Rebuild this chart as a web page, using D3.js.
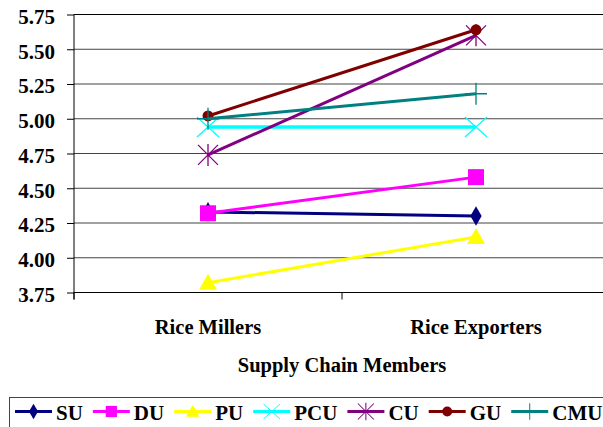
<!DOCTYPE html>
<html>
<head>
<meta charset="utf-8">
<script src="https://cdn.jsdelivr.net/npm/d3@7"></script>
<style>
  html, body { margin: 0; padding: 0; background: #fff; }
  svg { display: block; }
</style>
</head>
<body>
<svg id="chart" width="603" height="427"></svg>
<script>
// Supply chain members on the x axis
const categories = ["Rice Millers", "Rice Exporters"];

// Mean scores per member group
const seriesNames = ["SU", "DU", "PU", "PCU", "CU", "GU", "CMU"];
const suValues  = [4.33, 4.30];
const duValues  = [4.32, 4.58];
const puValues  = [3.82, 4.15];
const pcuValues = [4.94, 4.94];
const cuValues  = [4.74, 5.60];
const guValues  = [5.02, 5.64];
const cmuValues = [5.00, 5.18];

const yTicks = [3.75, 4.00, 4.25, 4.50, 4.75, 5.00, 5.25, 5.50, 5.75];
const xTitle = "Supply Chain Members";

const colors  = ["#000080", "#FF00FF", "#FFFF00", "#00FFFF", "#800080", "#800000", "#008080"];
const markers = ["diamond", "square", "triangle", "x", "star", "circle", "plus"];

const FONT = "'Liberation Serif', 'Times New Roman', Tinos, 'DejaVu Serif', serif";

const series = seriesNames.map((name, i) => ({
  name,
  values: [suValues, duValues, puValues, pcuValues, cuValues, guValues, cmuValues][i],
  color: colors[i],
  marker: markers[i]
}));

const svg = d3.select("#chart");
const plotLeft = 74, plotRight = 610, plotTop = 14.5, plotBottom = 292.5;

const y = d3.scaleLinear().domain([3.75, 5.75]).range([plotBottom, plotTop]);
const xBand = d3.scaleBand().domain(categories).range([plotLeft, plotRight]);
const xc = c => xBand(c) + xBand.bandwidth() / 2;

// Horizontal gridlines
svg.append("g").selectAll("line").data(yTicks.slice(1)).join("line")
  .attr("x1", plotLeft).attr("x2", plotRight)
  .attr("y1", d => y(d)).attr("y2", d => y(d))
  .attr("stroke", d => d === 5.75 ? "#000" : "#444").attr("stroke-width", 1);

// Y axis
const yAxis = d3.axisLeft(y).tickValues(yTicks).tickSize(7).tickPadding(12)
  .tickFormat(d3.format(".2f"));
const gy = svg.append("g").attr("transform", `translate(${plotLeft},0)`).call(yAxis);
gy.attr("font-family", null).attr("font-size", null);
gy.select(".domain").attr("stroke", "#000").attr("d", `M0,${plotTop}V${plotBottom + 7}`);
gy.selectAll(".tick line").attr("stroke", "#000");
gy.selectAll(".tick text")
  .style("font-family", FONT).style("font-weight", "bold").style("font-size", "21px")
  .attr("fill", "#000").attr("dy", "0.42em");

// X axis line with ticks at category boundaries
svg.append("line").attr("x1", plotLeft).attr("x2", plotRight).attr("y1", plotBottom).attr("y2", plotBottom)
  .attr("stroke", "#000").attr("stroke-width", 1);
const bounds = categories.map(c => xBand(c)).concat([xBand(categories[categories.length - 1]) + xBand.bandwidth()]);
svg.append("g").selectAll("line").data(bounds).join("line")
  .attr("x1", d => d).attr("x2", d => d).attr("y1", plotBottom).attr("y2", plotBottom + 7)
  .attr("stroke", "#000");

function styleText(sel, size) {
  return sel.style("font-family", FONT).style("font-weight", "bold").style("font-size", size + "px").attr("fill", "#000");
}

// Category labels
styleText(svg.append("g").selectAll("text").data(categories).join("text")
  .attr("x", d => xc(d)).attr("y", 334).attr("text-anchor", "middle").text(d => d), 20.5);

// Axis title
styleText(svg.append("text").attr("x", (plotLeft + plotRight) / 2).attr("y", 372).attr("text-anchor", "middle")
  .text(xTitle), 20.5);

// Marker drawing
function drawMarker(g, type, color, cx, cy) {
  const m = g.append("g").attr("transform", `translate(${cx},${cy})`);
  if (type === "diamond") {
    m.append("path").attr("d", d3.symbol(d3.symbolDiamond, 110)()).attr("fill", color);
  } else if (type === "square") {
    m.append("rect").attr("x", -8).attr("y", -8).attr("width", 16).attr("height", 16).attr("fill", color);
  } else if (type === "triangle") {
    m.append("path").attr("d", "M0,-9L9,7L-9,7Z").attr("fill", color);
  } else if (type === "circle") {
    m.append("circle").attr("r", 5.5).attr("fill", color);
  } else if (type === "x") {
    m.append("path").attr("d", "M-11,-10L11,10M-11,10L11,-10").attr("stroke", color).attr("stroke-width", 1.3).attr("fill", "none");
  } else if (type === "star") {
    m.append("path").attr("d", "M-10,-10L10,10M-10,10L10,-10M0,-11V11").attr("stroke", color).attr("stroke-width", 1.3).attr("fill", "none");
  } else if (type === "plus") {
    m.append("path").attr("d", "M-11,0H11M0,-11V11").attr("stroke", color).attr("stroke-width", 1.3).attr("fill", "none");
  }
}

const line = d3.line().x((d, i) => xc(categories[i])).y(d => y(d));
const plot = svg.append("g");
series.forEach(s => {
  const g = plot.append("g");
  g.append("path").attr("d", line(s.values)).attr("fill", "none")
    .attr("stroke", s.color).attr("stroke-width", s.marker === "x" ? 3.5 : 3);
  s.values.forEach((v, i) => drawMarker(g, s.marker, s.color, xc(categories[i]), y(v)));
});

// Legend
const legend = svg.append("g");
legend.append("rect").attr("x", 9.5).attr("y", 397.5).attr("width", 620).attr("height", 60)
  .attr("fill", "#fff").attr("stroke", "#444").attr("stroke-width", 1);
let lx = 15;
const ly = 411.5;
const legendScale = { diamond: 0.8, square: 0.7, triangle: 0.75, x: 0.75, star: 0.8, circle: 0.9, plus: 0.75 };
series.forEach(s => {
  const g = legend.append("g");
  g.append("line").attr("x1", lx).attr("x2", lx + 37).attr("y1", ly).attr("y2", ly)
    .attr("stroke", s.color).attr("stroke-width", 3);
  const m = g.append("g");
  drawMarker(m, s.marker, s.color, 0, 0);
  m.attr("transform", `translate(${lx + 18.5},${ly}) scale(${legendScale[s.marker]})`);
  const txt = styleText(g.append("text").attr("x", lx + 41).attr("y", 420).text(s.name), 21);
  lx = lx + 41 + txt.node().getComputedTextLength() + 10;
});
</script>
</body>
</html>
